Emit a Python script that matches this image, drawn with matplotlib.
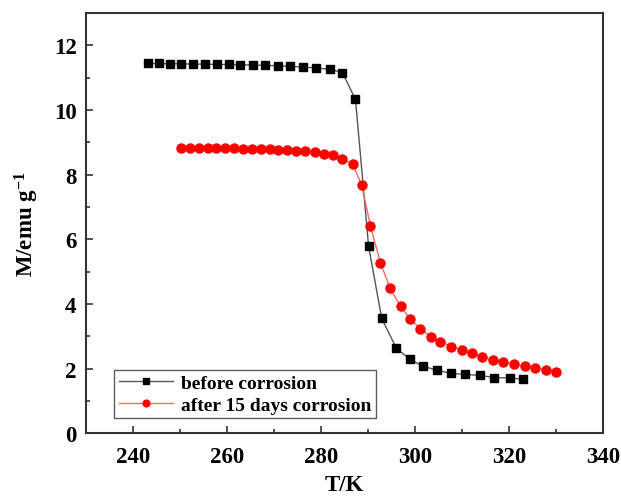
import matplotlib.pyplot as plt
from matplotlib.ticker import MultipleLocator

# magnetization vs temperature, before corrosion
t_before = [243.1, 245.4, 247.8, 250.2, 252.8, 255.3, 257.8, 260.3, 262.8,
            265.5, 268.1, 270.8, 273.4, 276.2, 279.0, 281.8, 284.5, 287.3,
            290.1, 292.9, 296.0, 298.9, 301.7, 304.7, 307.7, 310.7, 313.8,
            316.9, 320.1, 323.0]
m_before = [11.44, 11.44, 11.43, 11.43, 11.42, 11.42, 11.41, 11.41, 11.40,
            11.39, 11.38, 11.37, 11.35, 11.33, 11.30, 11.26, 11.16, 10.33,
            5.78, 3.55, 2.63, 2.29, 2.07, 1.95, 1.85, 1.82, 1.79,
            1.72, 1.71, 1.67]

# after 15 days corrosion
t_after = [250.1, 252.0, 253.9, 255.8, 257.7, 259.6, 261.5, 263.3, 265.2,
           267.1, 269.0, 270.9, 272.8, 274.7, 276.6, 278.6, 280.6, 282.5,
           284.5, 286.7, 288.6, 290.5, 292.6, 294.7, 296.9, 299.0, 301.1,
           303.3, 305.4, 307.7, 309.9, 312.1, 314.3, 316.5, 318.7, 321.0,
           323.3, 325.6, 327.9, 330.1]
m_after = [8.82, 8.82, 8.82, 8.82, 8.81, 8.81, 8.81, 8.80, 8.80,
           8.79, 8.78, 8.77, 8.76, 8.74, 8.72, 8.69, 8.65, 8.60,
           8.50, 8.32, 7.69, 6.41, 5.28, 4.48, 3.93, 3.53, 3.24,
           2.99, 2.83, 2.68, 2.57, 2.48, 2.36, 2.27, 2.20, 2.14,
           2.07, 2.02, 1.97, 1.88]

plt.rcParams['font.family'] = ['Liberation Serif', 'DejaVu Serif']
plt.rcParams['font.weight'] = 'bold'
plt.rcParams['mathtext.fontset'] = 'custom'
plt.rcParams['mathtext.rm'] = 'Liberation Serif:bold'
plt.rcParams['mathtext.bf'] = 'Liberation Serif:bold'
plt.rcParams['mathtext.default'] = 'rm'

fig = plt.figure(figsize=(6.21, 5.02), dpi=100)
ax = fig.add_axes([0.139, 0.135, 0.832, 0.837])

ax.plot(t_before, m_before, color='#555555', lw=1.0, marker='s', ms=5.3,
        mfc='black', mec='black', label='before corrosion')
ax.plot(t_after, m_after, color='#ff6666', lw=1.0, marker='o', ms=6.5,
        mfc='red', mec='red', label='after 15 days corrosion')

ax.set_xlim(230, 340)
ax.set_ylim(0, 13)
ax.xaxis.set_major_locator(MultipleLocator(20))
ax.xaxis.set_minor_locator(MultipleLocator(10))
ax.yaxis.set_major_locator(MultipleLocator(2))
ax.yaxis.set_minor_locator(MultipleLocator(1))
ax.tick_params(which='both', direction='in', top=False, right=False,
               labelsize=16.5, width=1.2, color='#333333')
ax.tick_params(axis='x', pad=9)
ax.tick_params(axis='y', pad=7)
ax.tick_params(which='major', length=5)
ax.tick_params(which='minor', length=3)
for lab in ax.get_xticklabels() + ax.get_yticklabels():
    lab.set_fontweight('bold')
for sp in ax.spines.values():
    sp.set_linewidth(1.5)
    sp.set_color('#333333')

ax.set_xlabel('T/K', fontsize=16.5, fontweight='bold', labelpad=5)
ax.set_ylabel('M/emu g$^{-1}$', fontsize=16.5, fontweight='bold', labelpad=9)

leg = ax.legend(loc='lower left', bbox_to_anchor=(0.035, 0.012), fontsize=14,
                frameon=True, fancybox=False, edgecolor='#333333',
                handlelength=2.8, borderpad=0.25, labelspacing=0.2,
                handletextpad=0.4, markerscale=0.75)
leg.get_frame().set_linewidth(1.0)
for txt in leg.get_texts():
    txt.set_fontweight('bold')

fig.savefig('out.png', dpi=100)
